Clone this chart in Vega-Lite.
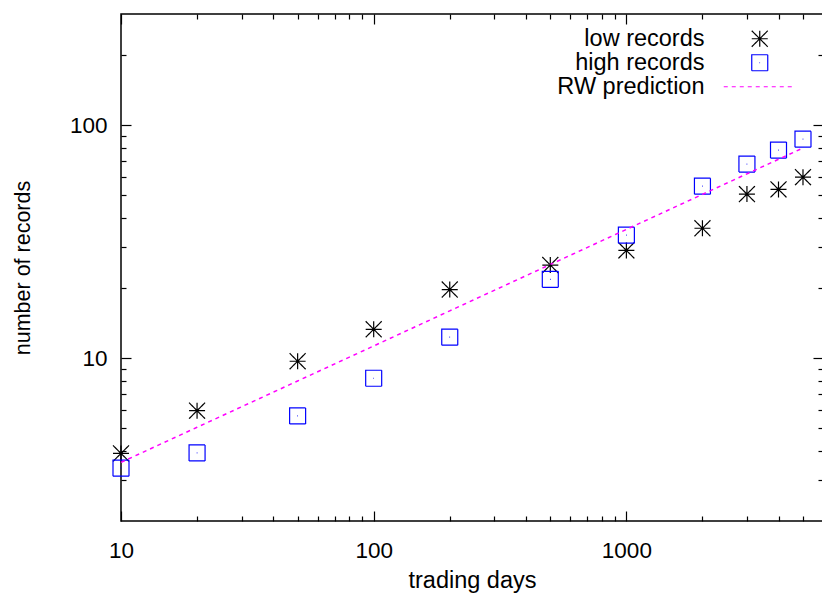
{
  "$schema": "https://vega.github.io/schema/vega-lite/v6.json",
  "width": 702,
  "height": 507,
  "autosize": {"type": "none"},
  "padding": {"left": 121, "top": 14, "right": 0, "bottom": 73},
  "background": "white",
  "config": {
    "font": "Liberation Sans",
    "view": {"stroke": "black", "strokeWidth": 1.5},
    "axis": {
      "grid": false,
      "domain": false,
      "labelFlush": false,
      "tickColor": "black",
      "tickWidth": 1.2,
      "labelColor": "black",
      "titleColor": "black",
      "labelFont": "Liberation Sans",
      "titleFont": "Liberation Sans",
      "labelFontSize": 22.5,
      "titleFontSize": 22,
      "titleFontWeight": "normal"
    },
    "legend": {
      "orient": "none",
      "legendX": 627,
      "legendY": 13,
      "padding": 0,
      "labelFont": "Liberation Sans",
      "labelFontSize": 23.5,
      "labelColor": "black",
      "labelAlign": "right",
      "labelOffset": -67,
      "symbolSize": 256,
      "symbolStrokeWidth": 1.2,
      "rowPadding": -1.5
    }
  },
  "datasets": {
    "low": [
      {"days": 10, "value": 3.9, "series": "low records"},
      {"days": 20, "value": 5.95, "series": "low records"},
      {"days": 50, "value": 9.7, "series": "low records"},
      {"days": 100, "value": 13.3, "series": "low records"},
      {"days": 200, "value": 19.7, "series": "low records"},
      {"days": 500, "value": 25.1, "series": "low records"},
      {"days": 1000, "value": 29.0, "series": "low records"},
      {"days": 2000, "value": 36.1, "series": "low records"},
      {"days": 3000, "value": 50.6, "series": "low records"},
      {"days": 4000, "value": 53.0, "series": "low records"},
      {"days": 5000, "value": 59.8, "series": "low records"}
    ],
    "high": [
      {"days": 10, "value": 3.37, "series": "high records"},
      {"days": 20, "value": 3.92, "series": "high records"},
      {"days": 50, "value": 5.65, "series": "high records"},
      {"days": 100, "value": 8.2, "series": "high records"},
      {"days": 200, "value": 12.3, "series": "high records"},
      {"days": 500, "value": 21.8, "series": "high records"},
      {"days": 1000, "value": 33.7, "series": "high records"},
      {"days": 2000, "value": 54.7, "series": "high records"},
      {"days": 3000, "value": 68.1, "series": "high records"},
      {"days": 4000, "value": 78.2, "series": "high records"},
      {"days": 5000, "value": 87.1, "series": "high records"}
    ],
    "rw": [
      {"days": 10, "value": 3.57, "series": "RW prediction"},
      {"days": 20, "value": 5.05, "series": "RW prediction"},
      {"days": 50, "value": 7.98, "series": "RW prediction"},
      {"days": 100, "value": 11.28, "series": "RW prediction"},
      {"days": 200, "value": 15.96, "series": "RW prediction"},
      {"days": 500, "value": 25.23, "series": "RW prediction"},
      {"days": 1000, "value": 35.68, "series": "RW prediction"},
      {"days": 2000, "value": 50.46, "series": "RW prediction"},
      {"days": 5000, "value": 79.79, "series": "RW prediction"}
    ]
  },
  "resolve": {"axis": {"x": "independent", "y": "independent"}},
  "layer": [
    {
      "data": {"name": "low"},
      "mark": {"type": "point", "filled": false, "size": 256, "strokeWidth": 1.2, "opacity": 1},
      "encoding": {
        "x": {
          "field": "days", "type": "quantitative",
          "scale": {"type": "log", "domain": [10, 6000], "nice": false},
          "axis": {"orient": "bottom", "values": [10, 100, 1000], "format": "d", "tickSize": -10, "labelPadding": 28, "title": "trading days", "titleFontSize": 23.5, "titlePadding": 7}
        },
        "y": {
          "field": "value", "type": "quantitative",
          "scale": {"type": "log", "domain": [2, 300], "nice": false},
          "axis": {"orient": "left", "values": [10, 100], "format": "d", "tickSize": -10, "labelPadding": 24, "title": "number of records", "titleFontSize": 21.5, "titlePadding": 35}
        },
        "color": {
          "field": "series", "type": "nominal",
          "scale": {"domain": ["low records", "high records", "RW prediction"], "range": ["black", "#0000ff", "#ff00ff"]},
          "legend": {"title": null}
        },
        "shape": {
          "field": "series", "type": "nominal",
          "scale": {"domain": ["low records", "high records", "RW prediction"], "range": ["M-1,0H1M0,-1V1M-1,-1L1,1M-1,1L1,-1", "M-1,-1H1V1H-1ZM-0.04,0H0.04", "M-4.5,0H4.5"]},
          "legend": {"title": null}
        },
        "strokeDash": {
          "field": "series", "type": "nominal",
          "scale": {"domain": ["low records", "high records", "RW prediction"], "range": [[1, 0], [1, 0], [4, 4]]},
          "legend": {"title": null}
        }
      }
    },
    {
      "data": {"name": "high"},
      "mark": {"type": "point", "filled": false, "size": 256, "strokeWidth": 1.2, "opacity": 1},
      "encoding": {
        "x": {
          "field": "days", "type": "quantitative",
          "axis": {"orient": "bottom", "values": [20, 30, 40, 50, 60, 70, 80, 90, 200, 300, 400, 500, 600, 700, 800, 900, 2000, 3000, 4000, 5000], "tickSize": -5, "labels": false, "title": null}
        },
        "y": {
          "field": "value", "type": "quantitative",
          "axis": {"orient": "left", "values": [3, 4, 5, 6, 7, 8, 9, 20, 30, 40, 50, 60, 70, 80, 90, 200], "tickSize": -5, "labels": false, "title": null}
        },
        "color": {"field": "series", "type": "nominal"},
        "shape": {"field": "series", "type": "nominal"},
        "strokeDash": {"field": "series", "type": "nominal"}
      }
    },
    {
      "data": {"name": "rw"},
      "mark": {"type": "line", "strokeWidth": 1.5},
      "encoding": {
        "x": {
          "field": "days", "type": "quantitative",
          "axis": {"orient": "top", "values": [10, 100, 1000], "tickSize": -10, "labels": false, "title": null}
        },
        "y": {
          "field": "value", "type": "quantitative",
          "axis": {"orient": "right", "values": [10, 100], "tickSize": -10, "labels": false, "title": null}
        },
        "color": {"field": "series", "type": "nominal"},
        "strokeDash": {"field": "series", "type": "nominal"}
      }
    },
    {
      "data": {"name": "low"},
      "mark": {"type": "point", "filled": true, "size": 3, "color": "black", "opacity": 1},
      "encoding": {
        "x": {
          "field": "days", "type": "quantitative",
          "axis": {"orient": "top", "values": [20, 30, 40, 50, 60, 70, 80, 90, 200, 300, 400, 500, 600, 700, 800, 900, 2000, 3000, 4000, 5000], "tickSize": -5, "labels": false, "title": null}
        },
        "y": {
          "field": "value", "type": "quantitative",
          "axis": {"orient": "right", "values": [3, 4, 5, 6, 7, 8, 9, 20, 30, 40, 50, 60, 70, 80, 90, 200], "tickSize": -5, "labels": false, "title": null}
        }
      }
    }
  ]
}
